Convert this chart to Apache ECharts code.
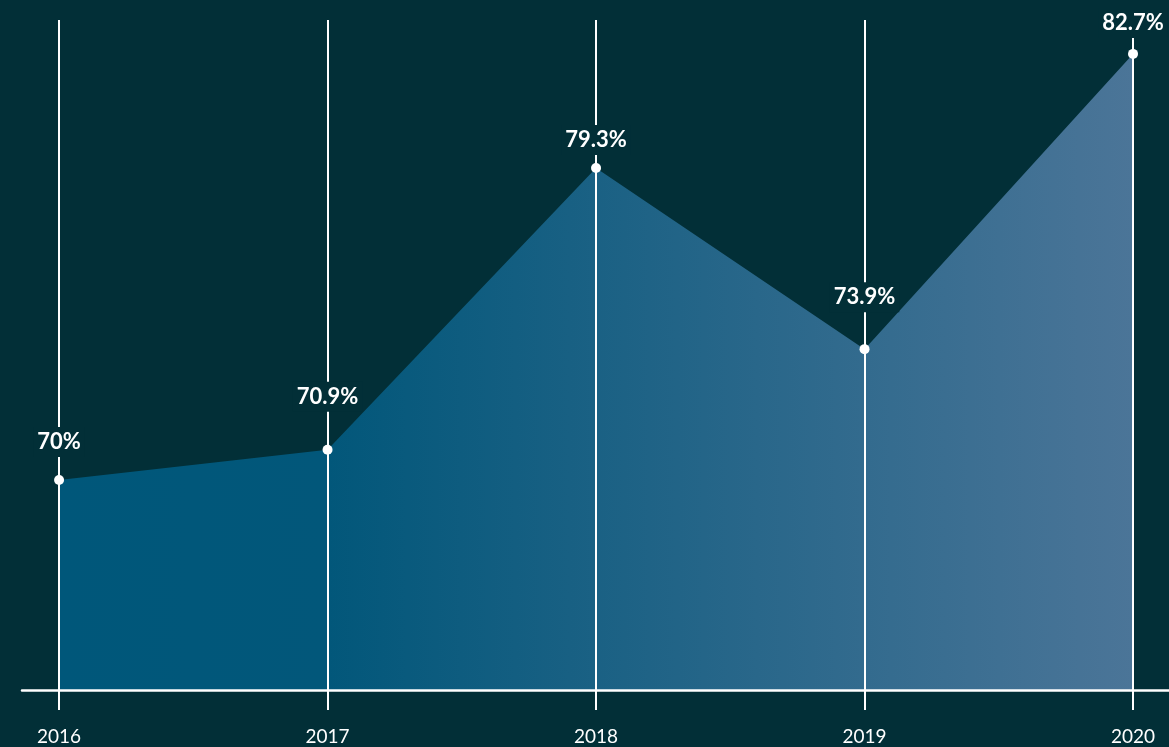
<!DOCTYPE html>
<html>
<head>
<meta charset="utf-8">
<script src="https://cdn.jsdelivr.net/npm/echarts@6/dist/echarts.min.js"></script>
<style>
  html, body { margin: 0; padding: 0; background: #022f37; }
  #chart { width: 1169px; height: 747px; }
</style>
</head>
<body>
<div id="chart"></div>
<script>
// data
const years = [2016, 2017, 2018, 2019, 2020];
const shares = [70, 70.9, 79.3, 73.9, 82.7];
// how far each label sits above its point (px)
const labelLift = [18, 33, 8, 32, 11];

const BG = '#022f37';
const chart = echarts.init(document.getElementById('chart'));

const pairs = years.map((y, i) => [y, shares[i]]);
const points = years.map((y, i) => ({
    value: [y, shares[i]],
    label: { distance: labelLift[i] }
}));

chart.setOption({
    backgroundColor: BG,
    animation: false,
    grid: { left: 22, right: 0, top: 20, bottom: 57 },
    xAxis: {
        type: 'value',
        z: 3,
        min: 2015.862,
        max: 2020.134,
        axisLine: { show: true, onZero: false, lineStyle: { color: '#ffffff', width: 2.5 } },
        axisTick: {
            show: true,
            customValues: years,
            length: 20,
            lineStyle: { color: '#ffffff', width: 2 }
        },
        axisLabel: {
            customValues: years,
            margin: 37,
            color: '#ffffff',
            fontFamily: 'Lato',
            fontSize: 19,
            formatter: v => String(v)
        },
        splitLine: { show: true, lineStyle: { color: '#ffffff', width: 2 } }
    },
    yAxis: {
        type: 'value',
        min: 63.74,
        max: 83.71,
        show: false,
        splitLine: { show: false }
    },
    series: [{
        // filled area
        type: 'line',
        data: pairs,
        symbol: 'none',
        lineStyle: { width: 0 },
        areaStyle: {
            opacity: 1,
            color: new echarts.graphic.LinearGradient(0, 0, 1, 0, [
                { offset: 0, color: '#00577a' },
                { offset: 0.25, color: '#02577a' },
                { offset: 1, color: '#4b7598' }
            ])
        },
        z: 2
    }, {
        // dots + value labels on top of the grid lines
        type: 'line',
        data: points,
        symbol: 'circle',
        symbolSize: 10,
        itemStyle: { color: '#ffffff' },
        lineStyle: { width: 0 },
        label: {
            show: true,
            position: 'top',
            formatter: p => p.value[1] + '%',
            color: '#ffffff',
            fontFamily: 'Lato',
            fontWeight: 'bold',
            fontSize: 22,
            lineHeight: 20,
            padding: [5, 4],
            backgroundColor: BG
        },
        z: 4
    }]
});
</script>
</body>
</html>
